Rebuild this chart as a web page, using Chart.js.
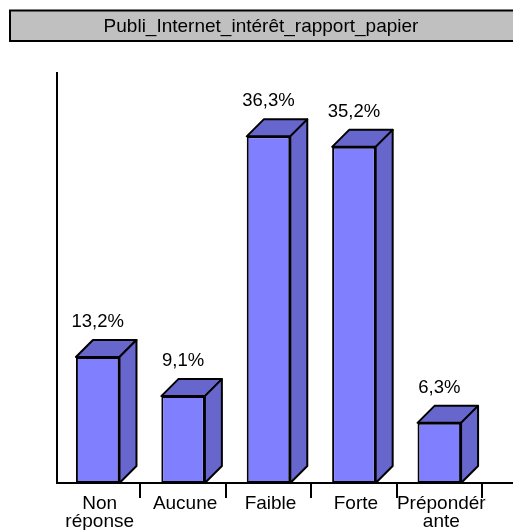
<!DOCTYPE html>
<html>
<head>
<meta charset="utf-8">
<script src="https://cdn.jsdelivr.net/npm/chart.js@4/dist/chart.umd.min.js"></script>
<style>
html,body{margin:0;padding:0;background:#fff;}
#wrap{position:relative;width:513px;height:530px;}
</style>
</head>
<body>
<div id="wrap"><canvas id="c" width="513" height="530"></canvas></div>
<script>
const titleText = "Publi_Internet_intérêt_rapport_papier";
const categories = [["Non","réponse"], ["Aucune"], ["Faible"], ["Forte"], ["Prépondér","ante"]];
const values = [13.2, 9.1, 36.3, 35.2, 6.3];
const valueLabels = ["13,2%", "9,1%", "36,3%", "35,2%", "6,3%"];

const FONT = '"Liberation Sans", Arial, sans-serif';
const DEPTH = 17;
const FRONT = '#8080FF';
const SIDE = '#6666CC';

const deco = {
  id: 'deco',
  beforeDraw(chart) {
    const ctx = chart.ctx;
    ctx.save();
    ctx.fillStyle = '#fff';
    ctx.fillRect(0, 0, chart.width, chart.height);
    // title box
    ctx.fillStyle = '#C0C0C0';
    ctx.fillRect(9, 10, 510, 31);
    ctx.strokeStyle = '#000';
    ctx.lineWidth = 2;
    ctx.strokeRect(10, 10.5, 510, 30.5);
    ctx.fillStyle = '#000';
    ctx.font = '19px ' + FONT;
    ctx.textAlign = 'center';
    ctx.textBaseline = 'alphabetic';
    ctx.fillText(titleText, 261, 32);
    // axes
    const base = chart.scales.y.getPixelForValue(0);
    ctx.lineWidth = 2;
    ctx.beginPath();
    ctx.moveTo(57, 72);
    ctx.lineTo(57, base);
    ctx.lineTo(513, base);
    ctx.stroke();
    // ticks at category boundaries
    const xs = chart.scales.x;
    const step = xs.getPixelForValue(1) - xs.getPixelForValue(0);
    for (let i = 1; i <= categories.length; i++) {
      const px = xs.getPixelForValue(i - 1) + step / 2;
      ctx.beginPath();
      ctx.moveTo(Math.round(px), base);
      ctx.lineTo(Math.round(px), base + 15);
      ctx.stroke();
    }
    ctx.restore();
  },
  afterDatasetsDraw(chart) {
    const ctx = chart.ctx;
    const meta = chart.getDatasetMeta(0);
    const base = chart.scales.y.getPixelForValue(0);
    ctx.save();
    ctx.strokeStyle = '#000';
    ctx.lineWidth = 2;
    ctx.lineJoin = 'round';
    meta.data.forEach((bar, i) => {
      const p = bar.getProps(['x', 'y', 'width'], true);
      const x1 = p.x - p.width / 2, x2 = p.x + p.width / 2, y = p.y;
      ctx.fillStyle = SIDE;
      // top
      ctx.beginPath();
      ctx.moveTo(x1, y);
      ctx.lineTo(x1 + DEPTH, y - DEPTH);
      ctx.lineTo(x2 + DEPTH, y - DEPTH);
      ctx.lineTo(x2, y);
      ctx.closePath();
      ctx.fill();
      ctx.stroke();
      // side
      ctx.beginPath();
      ctx.moveTo(x2, y);
      ctx.lineTo(x2 + DEPTH, y - DEPTH);
      ctx.lineTo(x2 + DEPTH, base - DEPTH);
      ctx.lineTo(x2, base);
      ctx.closePath();
      ctx.fill();
      ctx.stroke();
      // value label
      ctx.fillStyle = '#000';
      ctx.font = '18.5px ' + FONT;
      ctx.textAlign = 'center';
      ctx.textBaseline = 'alphabetic';
      ctx.fillText(valueLabels[i], p.x, y - 30);
      // category label
      ctx.font = '19px ' + FONT;
      const lines = categories[i];
      lines.forEach((t, k) => ctx.fillText(t, p.x + 2, 509 + k * 18));
    });
    ctx.restore();
  }
};

new Chart(document.getElementById('c'), {
  type: 'bar',
  data: {
    labels: categories.map(c => c.join('')),
    datasets: [{
      data: values,
      backgroundColor: FRONT,
      borderColor: '#000',
      borderWidth: 2,
      borderSkipped: false,
      barPercentage: 0.51,
      categoryPercentage: 1.0
    }]
  },
  options: {
    responsive: false,
    animation: false,
    devicePixelRatio: 1,
    layout: { padding: { left: 55, right: 31, top: 101, bottom: 47 } },
    plugins: { legend: { display: false }, title: { display: false }, tooltip: { enabled: false } },
    scales: {
      x: { display: false },
      y: { display: false, min: 0, max: 40 }
    }
  },
  plugins: [deco]
});
</script>
</body>
</html>
